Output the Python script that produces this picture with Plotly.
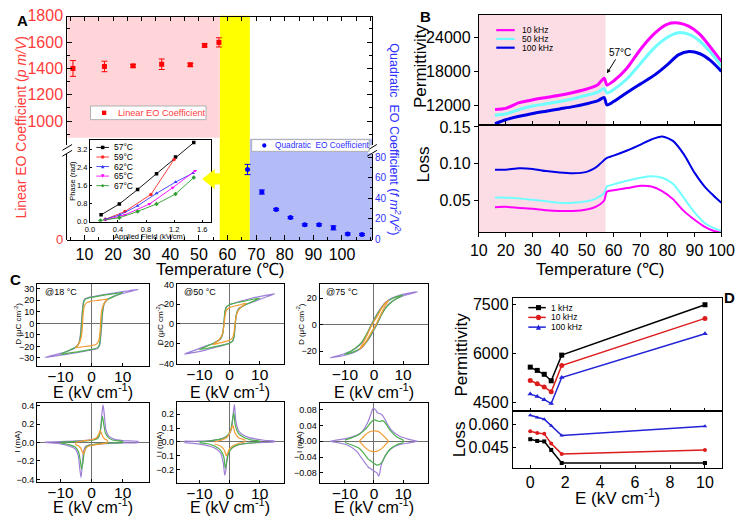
import plotly.graph_objects as go

W, H = 750, 521
FONT = "Liberation Sans, Arial, Helvetica, sans-serif"

# ================= DATA =================
# ---- Panel A: electro-optic coefficients vs temperature ----
lin_T = [6, 17, 27, 37, 47, 52, 57]
lin_val = [1400, 1415, 1420, 1432, 1428, 1575, 1598]
lin_err = [60, 40, 10, 40, 12, 12, 35]
quad_T = [67, 72, 77, 82, 87, 92, 97, 102, 107]
quad_val = [68, 46, 29, 21, 14, 14, 11, 5, 4.5]
quad_err = [5, 2, 1, 1, 1, 1, 2, 1, 1]
A_xticks = [10, 20, 30, 40, 50, 60, 70, 80, 90, 100]

# inset: phase vs applied field
ph_labels = ["57°C", "59°C", "62°C", "65°C", "67°C"]
ph57_E = [0.16, 0.42, 0.68, 0.95, 1.22, 1.48]
ph57 = [0.30, 0.78, 1.42, 2.12, 2.86, 3.50]
ph59_E = [0.22, 0.50, 0.87, 1.20]
ph59 = [0.10, 0.45, 1.20, 2.75]
ph62_E = [0.22, 0.43, 0.68, 0.95, 1.22, 1.47]
ph62 = [0.10, 0.30, 0.70, 1.25, 1.75, 2.15]
ph65_E = [0.22, 0.50, 0.85, 1.18, 1.50]
ph65 = [0.07, 0.30, 0.78, 1.50, 2.25]
ph67_E = [0.15, 0.42, 0.68, 0.95, 1.22, 1.48]
ph67 = [0.05, 0.17, 0.45, 0.78, 1.22, 1.95]

# ---- Panel B: permittivity / loss vs temperature ----
B_freqs = ["10 kHz", "50 kHz", "100 kHz"]
TB_perm = [16, 20, 25, 30, 35, 40, 45, 50, 54, 56.5, 57.5, 60, 65, 70, 75, 80, 84, 88, 92, 96, 100]
perm_10k = [11300, 11500, 12500, 13000, 13400, 13800, 14300, 14900, 15600, 16800, 15600, 16300,
            18600, 21900, 24600, 26300, 26500, 25900, 24500, 22200, 19700]
perm_50k = [10300, 10500, 11300, 11900, 12300, 12700, 13200, 13800, 14300, 15000, 14200, 14800,
            16700, 19400, 22100, 24000, 24800, 24500, 23300, 21300, 18900]
perm_100k = [8800, 9500, 10100, 10600, 11000, 11400, 11800, 12300, 12800, 13400, 12100, 12700,
             14300, 15800, 17300, 19200, 20900, 21500, 21100, 19900, 18000]
TB_loss = [16, 20, 25, 30, 35, 40, 45, 50, 53, 55, 56.5, 57.5, 60, 65, 70, 74, 78, 82, 86, 90, 94, 97, 100]
loss_10k = [0.041, 0.0415, 0.040, 0.039, 0.037, 0.036, 0.036, 0.038, 0.041, 0.045, 0.050, 0.062,
            0.064, 0.067, 0.070, 0.069, 0.063, 0.052, 0.036, 0.024, 0.014, 0.009, 0.006]
loss_50k = [0.054, 0.054, 0.053, 0.051, 0.049, 0.047, 0.047, 0.049, 0.052, 0.056, 0.060, 0.069,
            0.072, 0.077, 0.081, 0.083, 0.081, 0.073, 0.054, 0.034, 0.019, 0.013, 0.009]
loss_100k = [0.092, 0.092, 0.094, 0.093, 0.090, 0.088, 0.087, 0.089, 0.094, 0.100, 0.105, 0.108,
             0.111, 0.118, 0.126, 0.133, 0.137, 0.131, 0.113, 0.088, 0.068, 0.057, 0.047]

# ---- Panel C: D-E loops and I-E curves ----
C_temps = ["@18 °C", "@50 °C", "@75 °C"]
c18_pur_E = [15, 12, 8, 4, 1, -1, -2, -2.6, -3.0, -3.3, -3.6, -4.1, -5, -7, -10, -13, -15,
             -12, -8, -4, -1, 1, 2, 2.6, 3.0, 3.3, 3.6, 4.1, 5, 7, 10, 13, 15]
c18_pur_D = [29.5, 28.3, 26.8, 25, 23.5, 22.5, 21.5, 19, 10, 0, -10, -17, -20.5, -23.5, -26, -28, -29.5,
             -28.3, -26.8, -25, -23.5, -22.5, -21.5, -19, -10, 0, 10, 17, 20.5, 23.5, 26, 28, 29.5]
c18_grn_E = [10, 8, 4, 1, -1, -2, -2.5, -2.9, -3.2, -3.5, -4, -5, -7, -10,
             -8, -4, -1, 1, 2, 2.5, 2.9, 3.2, 3.5, 4, 5, 7, 10]
c18_grn_D = [26.8, 26, 24.5, 23, 22, 21, 18.5, 10, 0, -10, -17, -20.5, -23, -26.8,
             -26, -24.5, -23, -22, -21, -18.5, -10, 0, 10, 17, 20.5, 23, 26.8]
c18_org_E = [5, 3.5, 2, 0, -1.5, -2.3, -2.7, -2.9, -3.1, -3.5, -4.2, -5,
             -3.5, -2, 0, 1.5, 2.3, 2.7, 2.9, 3.1, 3.5, 4.2, 5]
c18_org_D = [21, 20.5, 20, 19.3, 18, 15, 8, 0, -8, -14, -18, -21,
             -20.5, -20, -19.3, -18, -15, -8, 0, 8, 14, 18, 21]
c18_pur_Ei = [-15, -10, -6, -3, -1, 1, 2, 2.8, 3.3, 3.7, 4.1, 4.6, 5.5, 7, 10, 15,
              15, 10, 6, 3, 1, -1, -2, -2.6, -3.0, -3.4, -3.8, -4.3, -5.2, -7, -10, -15]
c18_pur_I = [0.005, 0.01, 0.015, 0.02, 0.025, 0.035, 0.05, 0.12, 0.3, 0.41, 0.3, 0.14, 0.07, 0.04, 0.02, 0.01,
             0.0, -0.005, -0.01, -0.015, -0.02, -0.03, -0.045, -0.1, -0.25, -0.38, -0.28, -0.14, -0.07, -0.04, -0.015, 0.0]
c18_grn_Ei = [-10, -6, -3, -1, 1, 2, 2.7, 3.1, 3.5, 3.9, 4.5, 5.5, 7, 10,
              10, 6, 3, 1, -1, -1.8, -2.4, -2.8, -3.2, -3.6, -4.2, -5.2, -7, -10]
c18_grn_I = [0.005, 0.01, 0.015, 0.02, 0.03, 0.045, 0.1, 0.2, 0.285, 0.2, 0.1, 0.05, 0.025, 0.01,
             0.0, -0.005, -0.01, -0.02, -0.03, -0.05, -0.12, -0.22, -0.285, -0.2, -0.1, -0.05, -0.025, -0.005]
c18_org_Ei = [-5, -4, -2, 0, 1.5, 2.3, 2.8, 3.2, 3.7, 4.3, 5,
              5, 4, 2, 0, -1.5, -2.2, -2.6, -3.0, -3.5, -4.2, -5, -5]
c18_org_I = [0.0, 0.01, 0.02, 0.03, 0.05, 0.09, 0.13, 0.1, 0.06, 0.035, 0.025,
             0.0, -0.01, -0.02, -0.03, -0.05, -0.09, -0.125, -0.1, -0.06, -0.035, -0.025, 0.0]

c50_pur_E = [15, 12, 8, 5, 3, 1, 0, -1, -1.5, -1.9, -2.3, -3, -5, -8, -11, -15,
             -12, -8, -5, -3, -1, 0, 1, 1.5, 1.9, 2.3, 3, 5, 8, 11, 15]
c50_pur_D = [30.5, 29, 26.5, 24, 22.5, 20.5, 19.5, 17.5, 13, 0, -10, -15.5, -19, -22.5, -26, -30.5,
             -29, -26.5, -24, -22.5, -20.5, -19.5, -17.5, -13, 0, 10, 15.5, 19, 22.5, 26, 30.5]
c50_grn_E = [10, 7, 4, 1, 0, -1, -1.5, -1.9, -2.3, -3, -5, -7.5, -10,
             -7, -4, -1, 0, 1, 1.5, 1.9, 2.3, 3, 5, 7.5, 10]
c50_grn_D = [26, 24.5, 22.5, 20.5, 19.5, 17.5, 13, 0, -10, -15, -19, -22.5, -26,
             -24.5, -22.5, -20.5, -19.5, -17.5, -13, 0, 10, 15, 19, 22.5, 26]
c50_org_E = [5.5, 3, 1, 0, -1, -1.5, -1.8, -2.2, -3, -4, -5.5,
             -3, -1, 0, 1, 1.5, 1.8, 2.2, 3, 4, 5.5]
c50_org_D = [21, 19, 17.5, 16.5, 14, 8, 0, -8, -14, -17.5, -21,
             -19, -17.5, -16.5, -14, -8, 0, 8, 14, 17.5, 21]
c50_pur_Ei = [-15, -10, -6, -3, -1, 0, 0.7, 1.2, 1.6, 2.1, 3, 4.5, 6, 9, 12, 15,
              15, 10, 6, 3, 1, 0, -0.7, -1.2, -1.6, -2.1, -3, -4.5, -6, -9, -12, -15]
c50_pur_I = [0.005, 0.005, 0.01, 0.02, 0.04, 0.06, 0.1, 0.2, 0.27, 0.15, 0.08, 0.05, 0.035, 0.02, 0.01, 0.005,
             0.0, -0.005, -0.01, -0.02, -0.04, -0.06, -0.1, -0.2, -0.24, -0.15, -0.08, -0.05, -0.035, -0.02, -0.01, -0.005]
c50_grn_Ei = [-10, -6, -3, -1, 0.3, 0.9, 1.4, 1.9, 3, 5, 7, 10,
              10, 6, 3, 1, -0.3, -0.9, -1.4, -1.9, -3, -5, -7, -10]
c50_grn_I = [0.0, 0.01, 0.02, 0.04, 0.08, 0.15, 0.21, 0.12, 0.06, 0.03, 0.015, 0.005,
             0.0, -0.01, -0.02, -0.04, -0.08, -0.14, -0.19, -0.11, -0.06, -0.03, -0.015, -0.005]
c50_org_Ei = [-5, -3, -1, 0, 0.6, 1.1, 1.7, 3, 5,
              5, 3, 1, 0, -0.6, -1.1, -1.7, -3, -5]
c50_org_I = [0.0, 0.01, 0.03, 0.06, 0.1, 0.12, 0.07, 0.03, 0.015,
             0.0, -0.01, -0.03, -0.05, -0.08, -0.1, -0.06, -0.03, -0.015]

c75_pur_E = [15, 12, 9, 6, 4, 2, 1, 0, -1, -2, -3, -5, -8, -11, -15,
             -12, -9, -6, -4, -2, -1, 0, 1, 2, 3, 5, 8, 11, 15]
c75_pur_D = [25, 24, 22.5, 20, 17, 11.5, 8, 4, 0, -5, -9.5, -15.5, -20, -22.5, -25,
             -24, -22.5, -20, -17, -11.5, -8, -4, 0, 5, 9.5, 15.5, 20, 22.5, 25]
c75_grn_E = [10, 8, 6, 4, 2, 1, 0, -1, -2, -4, -6, -8, -10,
             -8, -6, -4, -2, -1, 0, 1, 2, 4, 6, 8, 10]
c75_grn_D = [22.5, 21.3, 19.5, 16.5, 11, 7.5, 3.5, -0.5, -5, -12.5, -17, -20, -22.5,
             -21.3, -19.5, -16.5, -11, -7.5, -3.5, 0.5, 5, 12.5, 17, 20, 22.5]
c75_org_E = [5, 4, 2.5, 1, 0, -1, -2.5, -4, -5,
             -4, -2.5, -1, 0, 1, 2.5, 4, 5]
c75_org_D = [18.5, 16.5, 12, 6, 2.5, -1.5, -8.5, -15, -18.5,
             -16.5, -12, -6, -2.5, 1.5, 8.5, 15, 18.5]
c75_pur_Ei = [-15, -12, -9, -6, -4, -2, -1, -0.3, 0.5, 1.2, 2, 3, 4.5, 6, 9, 12, 15,
              15, 12, 9, 6, 4, 2.5, 1.7, 1.0, 0, -1, -2, -3, -4.5, -6, -9, -12, -15]
c75_pur_I = [0.0, 0.004, 0.008, 0.015, 0.025, 0.05, 0.07, 0.083, 0.08, 0.072, 0.07, 0.065, 0.045, 0.028, 0.012, 0.005, 0.0,
             0.0, -0.004, -0.008, -0.018, -0.035, -0.06, -0.088, -0.08, -0.075, -0.07, -0.065, -0.055, -0.04, -0.025, -0.01, -0.004, 0.0]
c75_grn_Ei = [-10, -8, -5, -3, -1, 0, 1, 2, 3, 4, 5.5, 8, 10,
              10, 8, 5.5, 4, 3, 2, 1, 0, -1, -2, -3, -5, -8, -10]
c75_grn_I = [0.003, 0.008, 0.018, 0.03, 0.048, 0.054, 0.052, 0.05, 0.052, 0.045, 0.028, 0.01, 0.003,
             -0.003, -0.008, -0.02, -0.035, -0.05, -0.058, -0.06, -0.056, -0.05, -0.045, -0.035, -0.018, -0.008, -0.003]
c75_org_Ei = [-5, -4, -3, -1.5, 0, 1.5, 3, 4, 5,
              4, 3, 1.5, 0, -1.5, -3, -4, -5]
c75_org_I = [0.0, 0.008, 0.016, 0.024, 0.026, 0.025, 0.016, 0.008, 0.0,
             -0.008, -0.016, -0.024, -0.026, -0.024, -0.016, -0.008, 0.0]

# ---- Panel D: permittivity / loss vs bias field ----
D_freqs = ["1 kHz", "10 kHz", "100 kHz"]
D_E = [0, 0.4, 0.8, 1.2, 1.8, 10]
D_perm_1k = [5580, 5480, 5360, 5160, 5950, 7500]
D_perm_10k = [5170, 5070, 4970, 4820, 5630, 7080]
D_perm_100k = [4750, 4680, 4580, 4460, 5260, 6610]
D_loss_1k = [0.0504, 0.0493, 0.0490, 0.0436, 0.0353, 0.0353]
D_loss_10k = [0.0555, 0.0543, 0.0538, 0.0477, 0.0411, 0.0436]
D_loss_100k = [0.0656, 0.0641, 0.0631, 0.0590, 0.0528, 0.0586]

# region boundaries (temperature, °C)
A_XR = [4, 110.5]
T_FERRO_END = 57.3
T_YELLOW_END = 67.8
B_PINK_END = 57

# ================= STYLE =================
RED = "#ff0000"
RED_T = "#ff3c3c"
BLUE = "#0000ff"
BLUE_T = "#3030ff"
PINK_A = "#ffd5d9"
PINK_B = "#fcdde5"
BLUE_A = "#b4bcf8"
MAG = "#ff00ff"
CYAN = "#70ffff"
NAVY = "#0000e6"
PUR = "#9d7fd6"
GRN = "#4cae4c"
ORG = "#f39c33"


def X(px):
    return px / W


def Y(py):
    return 1 - py / H


def xd(l, r):
    return [l / W, r / W]


def yd(t, b):
    return [1 - b / H, 1 - t / H]


fig = go.Figure()


def line_tr(x, y, xa, ya, color, width=1.2, shape="linear", **kw):
    ln = dict(color=color, width=width, shape=shape)
    if shape == "spline":
        ln["smoothing"] = 0.7
    fig.add_trace(go.Scatter(x=x, y=y, xaxis=xa, yaxis=ya, mode=kw.pop("mode", "lines"),
                             line=ln, showlegend=False, hoverinfo="skip", **kw))


# ---- Panel A traces ----
fig.add_trace(go.Scatter(x=[], y=[], xaxis="x2", yaxis="y", showlegend=False))
fig.add_trace(go.Scatter(x=lin_T, y=lin_val, xaxis="x", yaxis="y", mode="markers",
                         marker=dict(symbol="square", size=5, color=RED),
                         error_y=dict(type="data", array=lin_err, color=RED, thickness=1, width=3),
                         showlegend=False, cliponaxis=False))
fig.add_trace(go.Scatter(x=quad_T, y=quad_val, xaxis="x", yaxis="y3", mode="markers",
                         marker=dict(symbol="circle", size=5, color=BLUE),
                         error_y=dict(type="data", array=quad_err, color=BLUE, thickness=1, width=3),
                         showlegend=False, cliponaxis=False))

inset_cols = ["#000000", "#ff2a2a", "#3a3aff", "#ff00ff", "#2e9e2e"]
inset_syms = ["square", "circle", "triangle-up", "triangle-down", "diamond"]
for ex, ey, c, s in zip([ph57_E, ph59_E, ph62_E, ph65_E, ph67_E], [ph57, ph59, ph62, ph65, ph67],
                        inset_cols, inset_syms):
    line_tr(ex, ey, "x3", "y4", c, width=0.9, mode="lines+markers",
            marker=dict(symbol=s, size=3.5, color=c))

# ---- Panel B traces ----
for vals, c, w in [(perm_10k, MAG, 3), (perm_50k, CYAN, 3), (perm_100k, NAVY, 3)]:
    line_tr(TB_perm, vals, "x4", "y5", c, width=w, shape="spline")
for vals, c in [(loss_100k, NAVY), (loss_50k, CYAN), (loss_10k, MAG)]:
    line_tr(TB_loss, vals, "x5", "y6", c, width=2, shape="spline")

# ---- Panel C traces ----
C_sets = [
    ("x6", "y7", "x7", "y8",
     [(c18_pur_E, c18_pur_D), (c18_grn_E, c18_grn_D), (c18_org_E, c18_org_D)],
     [(c18_pur_Ei, c18_pur_I), (c18_grn_Ei, c18_grn_I), (c18_org_Ei, c18_org_I)]),
    ("x8", "y9", "x9", "y10",
     [(c50_pur_E, c50_pur_D), (c50_grn_E, c50_grn_D), (c50_org_E, c50_org_D)],
     [(c50_pur_Ei, c50_pur_I), (c50_grn_Ei, c50_grn_I), (c50_org_Ei, c50_org_I)]),
    ("x10", "y11", "x11", "y12",
     [(c75_pur_E, c75_pur_D), (c75_grn_E, c75_grn_D), (c75_org_E, c75_org_D)],
     [(c75_pur_Ei, c75_pur_I), (c75_grn_Ei, c75_grn_I), (c75_org_Ei, c75_org_I)]),
]
for xu, yu, xl, yl, loops, curr in C_sets:
    for (ex, dv), c in zip(loops, [PUR, GRN, ORG]):
        line_tr(ex, dv, xu, yu, c, width=1.2, shape="spline")
    for (ex, iv), c in zip(curr, [PUR, GRN, ORG]):
        line_tr(ex, iv, xl, yl, c, width=1.2, shape="spline")

# ---- Panel D traces ----
D_cols = ["#000000", "#dd1c1c", "#2222d6"]
D_syms = ["square", "circle", "triangle-up"]
for vals, c, s in zip([D_perm_1k, D_perm_10k, D_perm_100k], D_cols, D_syms):
    line_tr(D_E, vals, "x12", "y13", c, width=1.5, mode="lines+markers",
            marker=dict(symbol=s, size=5, color=c), cliponaxis=False)
for vals, c, s in zip([D_loss_1k, D_loss_10k, D_loss_100k], D_cols, D_syms):
    line_tr(D_E, vals, "x13", "y14", c, width=1.5, mode="lines+markers",
            marker=dict(symbol=s, size=4, color=c), cliponaxis=False)


# ================= AXES =================
def axis(domain, rng, anchor, size=16, color="black", **kw):
    d = dict(domain=domain, range=rng, anchor=anchor, showline=True, linecolor="black",
             linewidth=1, showgrid=False, zeroline=False, ticks="outside", ticklen=3,
             tickcolor="black", tickfont=dict(size=size, color=color, family=FONT))
    d.update(kw)
    return d


ZL = dict(zeroline=True, zerolinecolor="#707070", zerolinewidth=1)
lay = {}
# Panel A
lay["xaxis"] = axis(xd(60, 374), A_XR, "free", position=Y(238), tickvals=A_xticks, ticks="inside",
                    ticklen=5, minor=dict(ticks="inside", ticklen=3, dtick=5, tick0=0))
lay["xaxis2"] = axis(xd(60, 374), A_XR, "free", position=Y(8), overlaying="x", side="top",
                     showticklabels=False, ticks="inside", ticklen=4, dtick=5, tick0=0)
lay["yaxis"] = axis(yd(8, 140), [822, 1800], "x", color=RED_T, dtick=200, tick0=0, ticks="inside",
                    ticklen=5, mirror="ticks", minor=dict(ticks="inside", ticklen=3, dtick=100, tick0=0))
lay["yaxis3"] = axis(yd(150, 238), [-0.95, 82.9], "x", size=10, color=BLUE_T,
                     side="right", dtick=20, tick0=0, ticks="inside", ticklen=4, mirror=True,
                     minor=dict(ticks="inside", ticklen=2, dtick=10, tick0=0))
# inset
lay["xaxis3"] = axis(xd(83.3, 207.7), [0, 1.72], "y4", size=7.5, dtick=0.4, tick0=0, tickformat=".1f",
                     ticks="inside", ticklen=2, mirror=True)
lay["yaxis4"] = axis(yd(135, 219.3), [-0.01, 3.63], "x3", size=7.5, dtick=0.8, tick0=0, tickformat=".1f",
                     ticks="inside", ticklen=2, mirror=True)
# Panel B
lay["xaxis4"] = axis(xd(484, 734), [10, 100], "y5", showticklabels=False, dtick=10, tick0=0,
                     ticks="inside", ticklen=4, mirror=True)
lay["yaxis5"] = axis(yd(7, 120), [8571, 27943], "x4", tickvals=[12000, 18000, 24000], tickformat="d",
                     ticklen=4, mirror=True)
lay["xaxis5"] = axis(xd(484, 734), [10, 100], "y6", dtick=10, tick0=0, ticklen=4, mirror=True)
lay["yaxis6"] = axis(yd(120, 230), [0.007, 0.1526], "x5", tickvals=[0.05, 0.10, 0.15], tickformat=".2f",
                     ticklen=4, mirror=True)
# Panel C
C_geo = [
    (xd(29, 144), [-17.5, 18.4], yd(283, 367), [-36.8, 34.2], [-30, -20, -10, 0, 10, 20, 30], "d",
     yd(405, 486), [-0.427, 0.43], [-0.4, -0.2, 0, 0.2, 0.4], ".1f"),
    (xd(173, 283), [-17.5, 18.0], yd(283, 365), [-40.5, 40.5], [-40, -20, 0, 20, 40], "d",
     yd(404, 487), [-0.296, 0.289], [-0.2, -0.1, 0, 0.1, 0.2], ".1f"),
    (xd(320, 432), [-18.7, 18.7], yd(283, 365), [-29.6, 30.9], [-20, 0, 20], "d",
     yd(405, 487), [-0.105, 0.097], [-0.08, -0.04, 0, 0.04, 0.08], ".2f"),
]
for k, (xdom, xr, yud, yur, yut, yuf, yld, ylr, ylt, ylf) in enumerate(C_geo):
    xu, xl = 6 + 2 * k, 7 + 2 * k
    yu, yl = 7 + 2 * k, 8 + 2 * k
    lay[f"xaxis{xu}"] = axis(xdom, xr, f"y{yu}", size=15.5, tickvals=[-10, 0, 10], mirror=True,
                             ticks="inside", ticklabelstandoff=-3, **ZL)
    lay[f"yaxis{yu}"] = axis(yud, yur, f"x{xu}", size=9, tickvals=yut, tickformat=yuf, mirror=True,
                             ticks="inside", **ZL)
    lay[f"xaxis{xl}"] = axis(xdom, xr, f"y{yl}", size=15.5, tickvals=[-10, 0, 10], mirror=True,
                             ticks="inside", ticklabelstandoff=-3, **ZL)
    lay[f"yaxis{yl}"] = axis(yld, ylr, f"x{xl}", size=9, tickvals=ylt, tickformat=ylf, mirror=True,
                             ticks="inside", **ZL)
# Panel D
lay["xaxis12"] = axis(xd(519, 735), [-1, 11], "y13", showticklabels=False, dtick=2, tick0=0,
                      ticks="inside", ticklen=3, mirror=True)
lay["yaxis13"] = axis(yd(297, 413), [4240, 7720], "x12", tickvals=[4500, 6000, 7500], tickformat="d",
                      mirror=True, ticks="inside")
lay["xaxis13"] = axis(xd(519, 735), [-1, 11], "y14", dtick=2, tick0=0, mirror=True, ticks="inside")
lay["yaxis14"] = axis(yd(413, 472), [0.032, 0.0685], "x13", tickvals=[0.045, 0.060], tickformat=".3f",
                      mirror=True, ticks="inside")

# ================= SHAPES =================
shapes = []
shapes.append(dict(type="rect", xref="x", yref="y", x0=A_XR[0], x1=T_FERRO_END, y0=874, y1=1800,
                   fillcolor=PINK_A, line_width=0, layer="below"))
shapes.append(dict(type="rect", xref="x", yref="paper", x0=T_FERRO_END, x1=T_YELLOW_END,
                   y0=Y(238), y1=Y(8), fillcolor="#ffff00", line_width=0, layer="below"))
shapes.append(dict(type="rect", xref="x", yref="paper", x0=T_YELLOW_END, x1=A_XR[1],
                   y0=Y(238), y1=Y(134), fillcolor=BLUE_A, line_width=0, layer="below"))
shapes.append(dict(type="rect", xref="x4", yref="paper", x0=10, x1=B_PINK_END,
                   y0=Y(230), y1=Y(7), fillcolor=PINK_B, line_width=0, layer="below"))


def ppath(pts):
    s = "M " + " L ".join(f"{X(a):.5f},{Y(b):.5f}" for a, b in pts) + " Z"
    return s


# yellow arrow in panel A
shapes.append(dict(type="path", xref="paper", yref="paper",
                   path=ppath([(219, 169.5), (212, 169.5), (212, 165), (199, 175.5), (212, 186),
                               (212, 181), (219, 181)]),
                   fillcolor="#ffff00", line=dict(width=0)))
# axis-break marks
for bx in (60, 374):
    shapes.append(dict(type="rect", xref="paper", yref="paper", x0=X(bx - 4), x1=X(bx + 4),
                       y0=Y(149), y1=Y(141), fillcolor="white", line_width=0))
    for oy in (0, 6):
        shapes.append(dict(type="line", xref="paper", yref="paper", x0=X(bx - 5), x1=X(bx + 5),
                           y0=Y(146 + oy), y1=Y(140 + oy), line=dict(color="black", width=1)))


def leg_marker(cx, cy, sym, color, s):
    if sym == "square":
        return dict(type="rect", xref="paper", yref="paper", x0=X(cx - s), x1=X(cx + s),
                    y0=Y(cy + s), y1=Y(cy - s), fillcolor=color, line_width=0)
    if sym == "circle":
        return dict(type="circle", xref="paper", yref="paper", x0=X(cx - s), x1=X(cx + s),
                    y0=Y(cy + s), y1=Y(cy - s), fillcolor=color, line_width=0)
    if sym == "triangle-up":
        pts = [(cx - s, cy + s), (cx + s, cy + s), (cx, cy - s)]
    elif sym == "triangle-down":
        pts = [(cx - s, cy - s), (cx + s, cy - s), (cx, cy + s)]
    else:
        pts = [(cx - s, cy), (cx, cy - s), (cx + s, cy), (cx, cy + s)]
    return dict(type="path", xref="paper", yref="paper", path=ppath(pts), fillcolor=color, line_width=0)


def leg_line(x0, x1, y, color, width):
    return dict(type="line", xref="paper", yref="paper", x0=X(x0), x1=X(x1), y0=Y(y), y1=Y(y),
                line=dict(color=color, width=width))


anns = []


def ann(text, px, py, size, color="black", angle=0, xa="center", ya="middle"):
    anns.append(dict(text=text, x=X(px), y=Y(py), xref="paper", yref="paper", showarrow=False,
                     font=dict(size=size, color=color, family=FONT), textangle=angle,
                     xanchor=xa, yanchor=ya))


# A legends (boxes)
shapes.append(dict(type="rect", xref="paper", yref="paper", x0=X(84), x1=X(203), y0=Y(114.5), y1=Y(100.5),
                   fillcolor="white", line=dict(color="#b0b0b0", width=1)))
shapes.append(leg_marker(98, 107.5, "square", RED, 2.2))
ann("Linear EO Coefficient", 110, 107.5, 9.2, RED_T, xa="left")
shapes.append(dict(type="rect", xref="paper", yref="paper", x0=X(250), x1=X(371), y0=Y(147), y1=Y(135),
                   fillcolor="white", line=dict(color="#b0b0b0", width=1)))
shapes.append(leg_marker(263, 141, "circle", BLUE, 2.2))
ann("Quadratic  EO Coefficient", 272, 141, 8.3, BLUE_T, xa="left")

# inset legend
for i, (lab, c, s) in enumerate(zip(ph_labels, inset_cols, inset_syms)):
    yy = 143 + 9.8 * i
    shapes.append(leg_line(90, 103, yy, c, 0.9))
    shapes.append(leg_marker(96.5, yy, s, c, 1.8))
    ann(lab, 106, yy, 8.5, "black", xa="left")

# B legend
for i, (lab, c) in enumerate(zip(B_freqs, [MAG, CYAN, NAVY])):
    yy = 22.7 + 9 * i
    shapes.append(leg_line(502, 521, yy, c, 2.2))
    ann(lab, 526, yy, 8.5, "black", xa="left")

# D legend
for i, (lab, c, s) in enumerate(zip(D_freqs, D_cols, D_syms)):
    yy = 307.3 + 10 * i
    shapes.append(leg_line(535, 553, yy, c, 1.5))
    shapes.append(leg_marker(545.5, yy, s, c, 2.6))
    ann(lab, 556, yy, 8.5, "black", xa="left")

# ================= TEXT =================
ann("<b>A</b>", 14, 13, 15)
ann("<b>B</b>", 429, 9, 15)
ann("<b>C</b>", 7, 278, 15)
ann("<b>D</b>", 742, 297, 15)

ann("Linear EO Coefficient (<i>p m/V</i>)", 12, 122, 14, RED_T, angle=-90)
ann("0", 52, 237, 13, RED_T)
ann("Quadratic  EO Coefficient (<i>f m<sup>2</sup>/V<sup>2</sup></i>)", 398, 135, 12.5, BLUE_T, angle=90)
ann("Temperature (℃)", 217, 268, 17)
ann("Phase (rad)", 65, 177, 7.5, angle=-90)
ann("Applied Field (kV/cm)", 145, 234, 7.5)

ann("Permittivity", 424, 60, 17, angle=-90)
ann("Loss", 427, 160, 17, angle=-90)
ann("Temperature (℃)", 609, 268, 17)
anns.append(dict(text="57°C", x=X(616), y=Y(67), xref="paper", yref="paper", showarrow=True,
                 ax=13, ay=-21, arrowhead=2, arrowsize=0.8, arrowwidth=1, arrowcolor="black",
                 font=dict(size=10, family=FONT), standoff=0))

for k, (cx, tx, lab) in enumerate([(86.5, 9, C_temps[0]), (228, 155, C_temps[1]), (376, 300, C_temps[2])]):
    ann(lab, cx - 51 if k != 1 else cx - 50, 291, 9, xa="left")
    ann("E (kV cm<sup>-1</sup>)", cx, 393, 16)
    ann("E (kV cm<sup>-1</sup>)", cx, 511, 16)
    ann("D (μC cm<sup>-2</sup>)", tx, 324, 8, angle=-90)
    ann("I (mA)", tx, 445, 8, angle=-90)

ann("Permittivity", 466, 355, 17, angle=-90)
ann("Loss", 465, 442, 17, angle=-90)
ann("E (kV cm<sup>-1</sup>)", 627, 502, 17)

fig.update_layout(width=W, height=H, margin=dict(l=0, r=0, t=0, b=0), paper_bgcolor="white",
                  plot_bgcolor="rgba(0,0,0,0)", showlegend=False,
                  font=dict(family=FONT, color="black"), shapes=shapes, annotations=anns, **lay)

fig.write_html("out.html")
